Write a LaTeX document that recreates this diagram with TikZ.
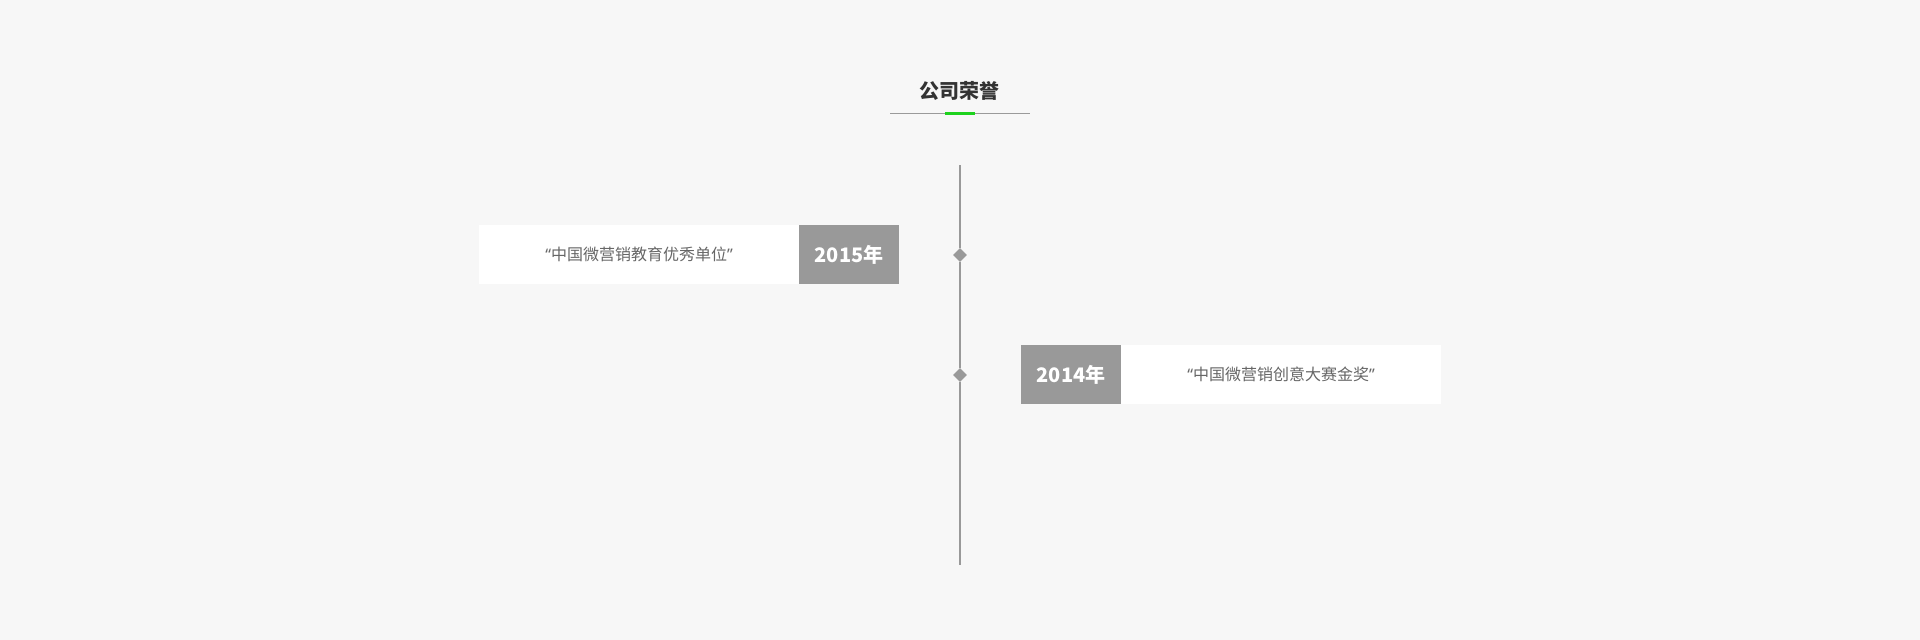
\documentclass[tikz,border=0pt]{standalone}
\usepackage{fontspec}
\newfontfamily\cjk{Noto Sans CJK SC}
\newfontfamily\lat{Noto Sans}
\usetikzlibrary{shapes.geometric}
\definecolor{bgc}{HTML}{F7F7F7}
\definecolor{boxgrey}{HTML}{999999}
\definecolor{txtgrey}{HTML}{666666}
\definecolor{titlec}{HTML}{333333}
\definecolor{accent}{HTML}{1ED21E}
\definecolor{rulegrey}{HTML}{9A9A9A}
\tikzset{
  whitebox/.style={rectangle, fill=white, draw=none, minimum width=320pt, minimum height=59pt, inner sep=0pt,
    text=txtgrey, font=\fontsize{16}{16}\selectfont\cjk},
  yearbox/.style={rectangle, fill=boxgrey, draw=none, minimum width=100pt, minimum height=59pt, inner sep=0pt,
    text=white, font=\fontsize{20}{20}\selectfont\cjk\bfseries},
  marker/.style={diamond, fill=boxgrey, draw=none, minimum size=14pt, inner sep=0pt},
  axis/.style={draw=boxgrey, line width=2pt},
  thinrule/.style={draw=rulegrey, line width=1pt}
}
\begin{document}
\begin{tikzpicture}[x=1pt,y=-1pt]
\fill[bgc] (0,0) rectangle (1920,640);
\useasboundingbox (0,0) rectangle (1920,640);
% title
\node[text=titlec, font=\fontsize{20}{20}\selectfont\cjk\bfseries] (title) at (959,91) {公司荣誉};
\coordinate (ruleL) at (890,113);
\coordinate (ruleR) at (1030,113);
\draw[thinrule] (ruleL) -- (ruleR);
\fill[accent] (945,111.5) rectangle (975,114.5);
% timeline
\coordinate (top) at (960,165);
\coordinate (bot) at (960,565);
\node[marker] (d1) at (960,255) {};
\node[marker] (d2) at (960,375) {};
\draw[axis] (top) -- (d1);
\draw[axis] (d1) -- (d2);
\draw[axis] (d2) -- (bot);
% entries
\node[whitebox] (t1) at (639,254.5) {\raisebox{-2pt}{{\lat “}中国微营销教育优秀单位{\lat ”}}};
\node[yearbox] (y1) at (849,254.5) {\raisebox{-1pt}{2015年}};
\node[yearbox] (y2) at (1071,374.5) {\raisebox{-1pt}{2014年}};
\node[whitebox] (t2) at (1281,374.5) {\raisebox{-2pt}{{\lat “}中国微营销创意大赛金奖{\lat ”}}};
\end{tikzpicture}
\end{document}
